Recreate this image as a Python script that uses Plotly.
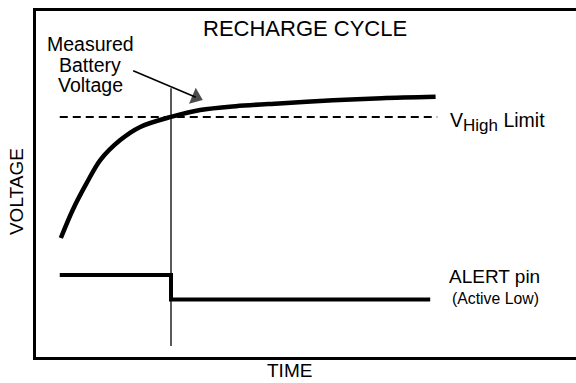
import plotly.graph_objects as go

# Time axis in arbitrary units (0-100), voltage in arbitrary units (0-100)
curve_time = [4.6, 6.8, 9.4, 11.9, 15.6, 19.3, 25.0, 30.4, 37.0, 45.0, 55.0, 64.0, 74.0]
curve_volt = [34.4, 42.5, 50.3, 56.9, 62.7, 66.5, 69.4, 71.4, 72.5, 73.3, 74.2, 74.8, 75.2]

limit_time = [4.4, 74.3]
limit_volt = [69.4, 69.4]

alert_time = [4.4, 25.0, 73.0]
alert_level = [23.7, 16.6, 16.6]

crossing_time = [25.0, 25.0]
crossing_span = [3.2, 77.7]

arrow_time = [18.0, 29.6]
arrow_volt = [82.7, 75.1]

FONT = "Liberation Sans, Arial, Helvetica, sans-serif"

fig = go.Figure()

fig.add_trace(go.Scatter(
    x=crossing_time, y=crossing_span, mode="lines",
    line=dict(color="black", width=1.3), hoverinfo="skip"))

fig.add_trace(go.Scatter(
    x=limit_time, y=limit_volt, mode="lines",
    line=dict(color="black", width=2, dash="8px,5px"), hoverinfo="skip"))

fig.add_trace(go.Scatter(
    x=curve_time, y=curve_volt, mode="lines",
    line=dict(color="black", width=4.5, shape="spline", smoothing=0.9),
    hoverinfo="skip"))

fig.add_trace(go.Scatter(
    x=alert_time, y=alert_level, mode="lines",
    line=dict(color="black", width=4, shape="hv"), hoverinfo="skip"))

# Pointer from the label to the curve, with a filled head at its end
fig.add_trace(go.Scatter(
    x=arrow_time, y=arrow_volt, mode="lines+markers",
    line=dict(color="black", width=1.6),
    marker=dict(symbol=["circle", "triangle-up"], size=[0, 15],
                color="black", angleref="previous", line=dict(width=0)),
    hoverinfo="skip"))

annotations = [
    dict(text="RECHARGE CYCLE", x=49.8, y=94.9, xref="x", yref="y",
         showarrow=False, font=dict(size=22)),
    dict(text="Measured", x=10.0, y=90.6, xref="x", yref="y",
         showarrow=False, font=dict(size=19.5)),
    dict(text="Battery", x=10.0, y=84.5, xref="x", yref="y",
         showarrow=False, font=dict(size=19.5)),
    dict(text="Voltage", x=10.0, y=78.6, xref="x", yref="y",
         showarrow=False, font=dict(size=19.5)),
    dict(text="V<sub><span style='font-size:17px'>High</span></sub> Limit",
         x=76.3, y=68.0, xref="x", yref="y",
         xanchor="left", showarrow=False, font=dict(size=19.5)),
    dict(text="ALERT pin", x=76.1, y=23.4, xref="x", yref="y",
         xanchor="left", showarrow=False, font=dict(size=19)),
    dict(text="(Active Low)", x=76.7, y=17.0, xref="x", yref="y",
         xanchor="left", showarrow=False, font=dict(size=15.8)),
    dict(text="VOLTAGE", x=-0.035, y=0.477, xref="paper", yref="paper",
         xanchor="center", yanchor="middle",
         textangle=-90, showarrow=False, font=dict(size=19)),
    dict(text="TIME", x=0.469, y=-0.0751, xref="paper", yref="paper",
         xanchor="center", yanchor="bottom",
         showarrow=False, font=dict(size=19)),
]

fig.update_layout(
    width=576, height=383,
    margin=dict(l=36, r=0, t=11, b=26),
    paper_bgcolor="white", plot_bgcolor="white",
    showlegend=False,
    font=dict(family=FONT, color="black"),
    annotations=annotations,
    xaxis=dict(range=[0, 100], showgrid=False, zeroline=False,
               showticklabels=False, ticks="", showline=True,
               linecolor="black", linewidth=3, mirror=True, fixedrange=True),
    yaxis=dict(range=[0, 100], showgrid=False, zeroline=False,
               showticklabels=False, ticks="", showline=True,
               linecolor="black", linewidth=3, mirror=False, fixedrange=True),
)

fig.write_html("out.html", config={"displayModeBar": False})
